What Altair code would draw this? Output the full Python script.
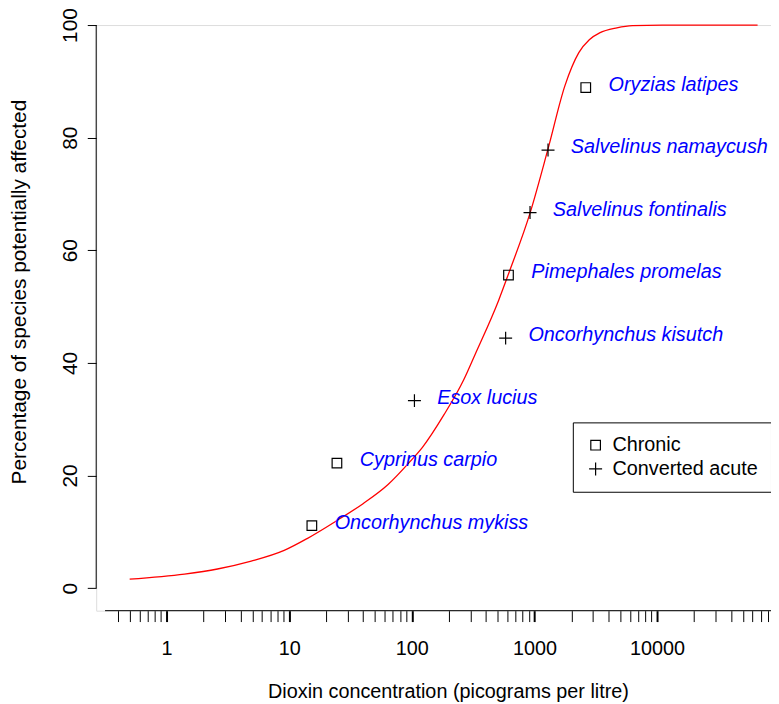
import altair as alt
import pandas as pd

# ---- data ----
species = ["Oncorhynchus mykiss", "Cyprinus carpio", "Esox lucius", "Oncorhynchus kisutch",
           "Pimephales promelas", "Salvelinus fontinalis", "Salvelinus namaycush", "Oryzias latipes"]
conc = [15.3, 24.5, 105, 582, 614, 920, 1290, 2620]
pct = [11.1, 22.2, 33.3, 44.4, 55.6, 66.7, 77.8, 88.9]
kind = ["Chronic", "Chronic", "Converted acute", "Converted acute",
        "Chronic", "Converted acute", "Converted acute", "Chronic"]

curve_conc = [0.5, 1.4, 2.6, 4.9, 9.1, 14, 24.5, 40, 64, 97, 122, 183, 265, 328, 510, 614,
              920, 1290, 1770, 2300, 2800, 3400, 4700, 6300, 11000, 66000]
curve_pct = [1.6, 2.5, 3.4, 4.8, 6.7, 8.8, 12.0, 15.0, 18.4, 22.5, 25.0, 30.8, 37.0, 41.5, 51.1, 55.8,
             66.6, 78.0, 89.2, 95.1, 97.4, 98.6, 99.5, 99.9, 100, 100]

kinds = ["Chronic", "Converted acute"]
major_ticks = [1, 10, 100, 1000, 10000]
minor_mult = [2, 3, 4, 5, 6, 7, 8, 9]
y_ticks = [0, 20, 40, 60, 80, 100]

x_domain = [0.2667, 84900]
y_domain = [-4, 100]
x_axis_from = 0.315

FONT = "Liberation Sans"

minor_ticks = [round(m * 10 ** e, 6) for e in range(-1, 5) for m in minor_mult]
x_ticks = sorted(set(major_ticks + [v for v in minor_ticks if 0.35 <= v <= x_domain[1]]))

pts = pd.DataFrame({"species": species, "conc": conc, "pct": pct, "type": kind})
curve = pd.DataFrame({"conc": curve_conc, "pct": curve_pct})
xline = pd.DataFrame({"x": [x_axis_from], "x2": [x_domain[1]], "y": [y_domain[0]]})
yline = pd.DataFrame({"x": [x_domain[0]], "y": [y_ticks[0]], "y2": [y_ticks[-1]]})

xscale = alt.Scale(type="log", domain=x_domain, nice=False)
yscale = alt.Scale(domain=y_domain, nice=False, zero=False)

major_test = "indexof([1,10,100,1000,10000], datum.value) >= 0"

x_axis = alt.Axis(
    values=x_ticks,
    labelExpr=f"{major_test} ? datum.value + '' : ''",
    title="Dioxin concentration (picograms per litre)",
    titleX=355, titleY=88, titleAlign="center", titleBaseline="alphabetic",
    titleFont=FONT, titleFontSize=20, titleFontWeight="normal", titleColor="black",
    labelFont=FONT, labelFontSize=20, labelColor="black", labelPadding=17,
    labelOverlap=False, labelFlush=False, labelBound=False,
    tickSize=11, tickColor="black",
    tickWidth={"condition": {"test": major_test, "value": 2}, "value": 1},
    domain=False, grid=False,
)

y_axis = alt.Axis(
    values=y_ticks,
    title="Percentage of species potentially affected",
    titleAngle=270, titleX=-71, titleY=269, titleAlign="center", titleBaseline="alphabetic",
    titleFont=FONT, titleFontSize=21, titleFontWeight="normal", titleColor="black",
    labelAngle=270, labelAlign="center", labelBaseline="alphabetic",
    labelFont=FONT, labelFontSize=21, labelColor="black", labelPadding=11,
    tickSize=9, tickColor="black", tickWidth=1,
    domain=False, grid=False,
)

square_path = "M-0.85,-0.85H0.85V0.85H-0.85Z"
plus_path = "M-1.15,0H1.15M0,-1.15V1.15"

curve_layer = alt.Chart(curve).mark_line(color="#FF0000", strokeWidth=1.3, interpolate="monotone").encode(
    x=alt.X("conc:Q", scale=xscale, axis=x_axis),
    y=alt.Y("pct:Q", scale=yscale, axis=y_axis),
)

xline_layer = alt.Chart(xline).mark_rule(color="black", strokeWidth=1).encode(
    x=alt.X("x:Q", scale=xscale), x2="x2:Q", y=alt.Y("y:Q", scale=yscale)
)
yline_layer = alt.Chart(yline).mark_rule(color="black", strokeWidth=1).encode(
    x=alt.X("x:Q", scale=xscale), y=alt.Y("y:Q", scale=yscale), y2="y2:Q"
)

point_layer = alt.Chart(pts).mark_point(filled=False, color="black", strokeWidth=1.2, size=130, opacity=1).encode(
    x=alt.X("conc:Q", scale=xscale),
    y=alt.Y("pct:Q", scale=yscale),
    shape=alt.Shape(
        "type:N",
        scale=alt.Scale(domain=kinds, range=[square_path, plus_path]),
        legend=alt.Legend(
            title=None, orient="none", legendX=481, legendY=401,
            padding=13, fillColor="white", strokeColor="black", cornerRadius=0,
            labelFont=FONT, labelFontSize=20, labelColor="black", labelOffset=7,
            symbolSize=130, symbolStrokeWidth=1.2, symbolStrokeColor="black",
            symbolFillColor="transparent", rowPadding=4,
        ),
    ),
)

text_layer = alt.Chart(pts).mark_text(
    align="left", baseline="middle", dx=23, dy=-3, font=FONT, fontSize=20,
    fontStyle="italic", color="#0000FF",
).encode(
    x=alt.X("conc:Q", scale=xscale),
    y=alt.Y("pct:Q", scale=yscale),
    text="species:N",
)

chart = alt.layer(curve_layer, xline_layer, yline_layer, point_layer, text_layer).properties(
    width=681, height=591,
    autosize=alt.AutoSizeParams(type="none"),
    padding={"left": 89, "top": 14, "right": 0, "bottom": 91},
).configure_view(stroke=None).configure(background="white")

chart.save("out.html", embed_options={"renderer": "svg", "actions": False})
